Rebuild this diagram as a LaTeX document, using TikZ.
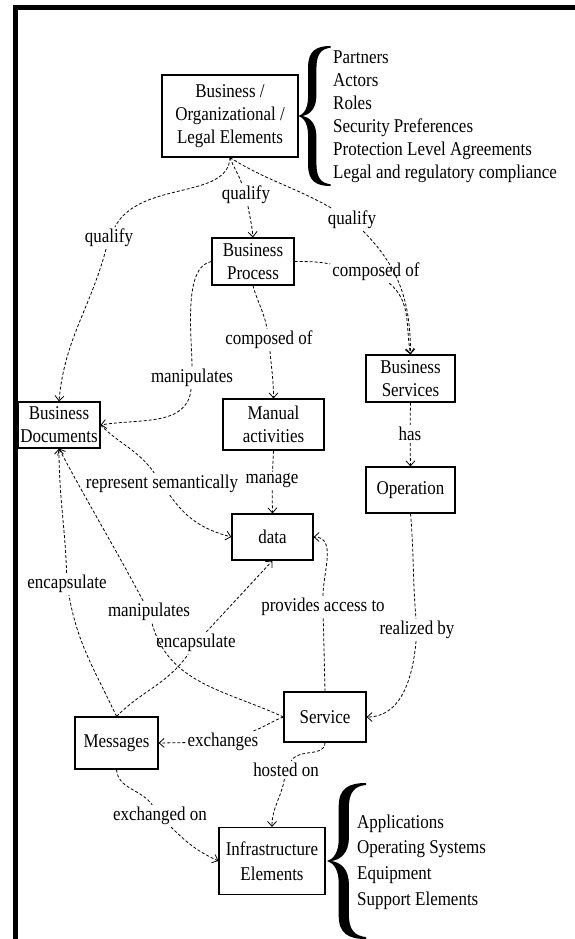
\documentclass[tikz,border=0pt]{standalone}
\usepackage{fontspec}
\setmainfont{Liberation Serif}[FakeStretch=0.87]
\usetikzlibrary{arrows.meta}

\begin{document}
\begin{tikzpicture}[x=1pt,y=1pt,
 box/.style={draw,line width=1.2pt,fill=white,align=center,inner sep=0pt,font=\fontsize{19.5}{23}\selectfont},
 lbl/.style={inner sep=2pt,font=\fontsize{19.5}{23}\selectfont},
 conn/.style={line width=0.8pt,dash pattern=on 3pt off 2pt,-{Straight Barb[length=5pt,width=9pt]}},
 lst/.style={anchor=west,align=left,inner sep=0pt,font=\fontsize{19.5}{23}\selectfont},
 curly/.pic={
  \fill (1,1) .. controls (0.55,1) and (0.3,0.93) .. (0.3,0.7) -- (0.3,0.28)
   .. controls (0.3,0.1) and (0.15,0.02) .. (0,0)
   .. controls (0.15,-0.02) and (0.3,-0.1) .. (0.3,-0.28) -- (0.3,-0.7)
   .. controls (0.3,-0.93) and (0.55,-1) .. (1,-1) -- (1,-0.975)
   .. controls (0.7,-0.96) and (0.56,-0.88) .. (0.56,-0.68) -- (0.56,-0.3)
   .. controls (0.56,-0.1) and (0.35,-0.02) .. (0.12,0)
   .. controls (0.35,0.02) and (0.56,0.1) .. (0.56,0.3) -- (0.56,0.68)
   .. controls (0.56,0.88) and (0.7,0.96) .. (1,0.975) -- cycle;
 }]
 \useasboundingbox (0,0) rectangle (575,-939);
 \fill (13,-5.5) rectangle (575,-10);
 \fill (13,-5.5) rectangle (17.5,-939);
 \node[box,minimum width=136,minimum height=82] (bol) at (230,-116) {Business /\\Organizational /\\Legal Elements};
 \node[box,minimum width=82,minimum height=47] (bproc) at (253,-261.5) {Business\\Process};
 \node[box,minimum width=89,minimum height=47] (bserv) at (410.5,-378.5) {Business\\Services};
 \node[box,minimum width=82,minimum height=46] (bdoc) at (59,-425) {Business\\Documents};
 \node[box,minimum width=101,minimum height=51] (manual) at (273.5,-424.5) {Manual\\activities};
 \node[box,minimum width=89,minimum height=46] (oper) at (410.5,-490) {Operation};
 \node[box,minimum width=81,minimum height=46] (data) at (272.5,-537) {data};
 \node[box,minimum width=82,minimum height=50] (serv) at (325,-717) {Service};
 \node[box,minimum width=83,minimum height=52] (msg) at (116.5,-743) {Messages};
 \node[box,minimum width=106,minimum height=67,font=\fontsize{19.5}{25}\selectfont] (infra) at (272,-861) {Infrastructure\\Elements};
 \pic[xscale=32,yscale=70] at (298.5,-116) {curly};
 \node[lst] (ltop) at (333,-117) {Partners\\Actors\\Roles\\Security Preferences\\Protection Level Agreements\\Legal and regulatory compliance};
 \pic[xscale=39,yscale=78] at (327,-861) {curly};
 \node[lst,font=\fontsize{19.5}{25.7}\selectfont] (lbot) at (357,-862) {Applications\\Operating Systems\\Equipment\\Support Elements};
 \node[lbl] (q1) at (109,-238) {qualify};
 \node[lbl] (q2) at (246,-195) {qualify};
 \node[lbl] (q3) at (352,-220) {qualify};
 \node[lbl] (c1) at (376,-272) {composed of};
 \node[lbl] (c2) at (269,-340) {composed of};
 \node[lbl] (m1) at (192,-378) {manipulates};
 \node[lbl] (has) at (410,-434) {has};
 \node[lbl] (man) at (272,-481) {manage};
 \node[lbl] (rs) at (162,-484) {represent semantically};
 \node[lbl] (e1) at (67,-584) {encapsulate};
 \node[lbl] (pa) at (323,-607) {provides access to};
 \node[lbl] (m2) at (149,-612) {manipulates};
 \node[lbl] (rb) at (417,-630) {realized by};
 \node[lbl] (e2) at (196,-643) {encapsulate};
 \node[lbl] (ex) at (223,-742) {exchanges};
 \node[lbl] (ho) at (286,-770) {hosted on};
 \node[lbl] (eo) at (160,-816) {exchanged on};
 \draw[conn] (bol.south) .. controls (228,-200) and (140,-180) .. (q1) to[out=-105,in=85] (bdoc.north);
 \draw[conn] (bol.south) to[out=-70,in=110] (q2) to[out=-80,in=95] (bproc.north);
 \draw[conn] (bol.south) to[out=-32,in=150] (q3) to[out=-45,in=90] (bserv.north);
 \draw[conn] (bproc.east) to[out=0,in=170] (c1) to[out=-40,in=100] (bserv.north);
 \draw[conn] (bproc.south) to[out=-75,in=100] (c2) to[out=-85,in=90] (manual.north);
 \draw[conn] (bproc.west) to[out=190,in=90,looseness=0.7] (m1) to[out=-95,in=10] (bdoc.east);
 \draw[conn] (bserv.south) -- (has) -- (oper.north);
 \draw[conn] (manual.south) -- (man) -- (data.north);
 \draw[conn] (bdoc.east) to[out=-45,in=125] (rs) to[out=-55,in=165] (data.west);
 \draw[conn] (msg.north) to[out=115,in=-80] (e1) to[out=92,in=-90] (bdoc.south);
 \draw[conn] (serv.west) to[out=155,in=-75] (m2) to[out=118,in=-62] (bdoc.south);
 \draw[conn] (msg.north) to[out=45,in=-125] (e2) -- (data.south);
 \draw[conn] (serv.north) -- (pa) to[out=90,in=0] (data.east);
 \draw[conn] (oper.south) to[out=-85,in=95] (rb) to[out=-95,in=0] (serv.east);
 \draw[conn] (serv.west) to[out=200,in=20] (ex) -- (msg.east);
 \draw[conn] (serv.south) to[out=-90,in=60] (ho) to[out=-100,in=90] (infra.north);
 \draw[conn] (msg.south) to[out=-85,in=125] (eo) to[out=-45,in=155] (infra.west);
\end{tikzpicture}
\end{document}
